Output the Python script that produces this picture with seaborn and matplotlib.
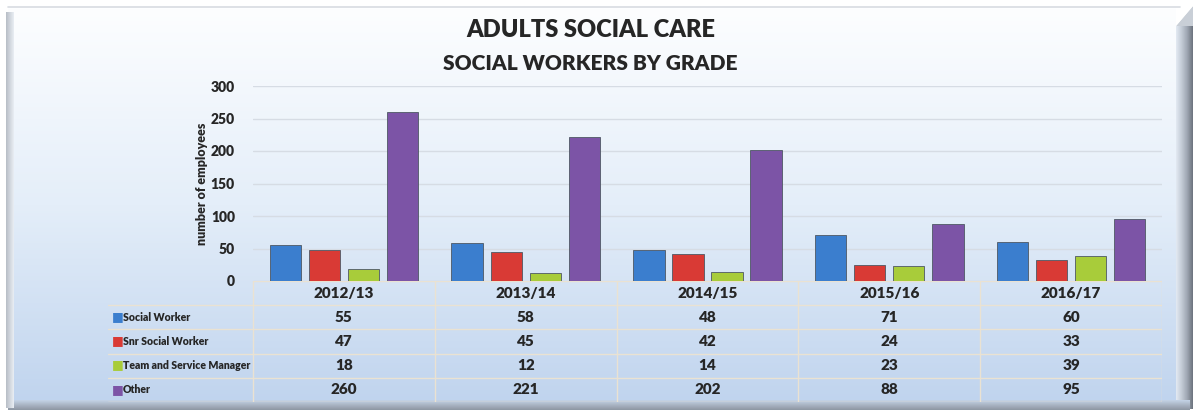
import numpy as np
import pandas as pd
import seaborn as sns
import matplotlib.pyplot as plt
from matplotlib.colors import LinearSegmentedColormap

# data
years = ["2012/13", "2013/14", "2014/15", "2015/16", "2016/17"]
grades = ["Social Worker", "Snr Social Worker", "Team and Service Manager", "Other"]
social_worker = [55, 58, 48, 71, 60]
snr_social_worker = [47, 45, 42, 24, 33]
team_service_manager = [18, 12, 14, 23, 39]
other = [260, 221, 202, 88, 95]
colors = ["#3B7ECE", "#D93A35", "#A8CC3A", "#7C54A6"]

series = [social_worker, snr_social_worker, team_service_manager, other]
df = pd.DataFrame({
    "year": np.tile(years, len(grades)),
    "grade": np.repeat(grades, len(years)),
    "count": np.concatenate(series),
})

sns.set_theme(style="white")
plt.rcParams["font.family"] = ["Lato", "DejaVu Sans"]
plt.rcParams["font.weight"] = "heavy"
FW = "heavy"

W, H = 1198, 416
fig = plt.figure(figsize=(W / 100, H / 100), dpi=100, facecolor="white")

# background panel (gradient + bevel edges), pixel coordinates
bg = fig.add_axes([0, 0, 1, 1], zorder=-5)
bg.set_xlim(0, W)
bg.set_ylim(H, 0)
bg.axis("off")
panel_cmap = LinearSegmentedColormap.from_list("panel", ["#FDFEFF", "#E4EEF9", "#C0D4EE"])
grad = np.linspace(0, 1, 256).reshape(-1, 1)
bg.imshow(grad, cmap=panel_cmap, extent=[8, 1192, 402, 8], aspect="auto", zorder=0)
# right bevel
rb = LinearSegmentedColormap.from_list("rb", ["#E3EAF2", "#C3CBD6", "#9EA6B2", "#6C737E"])
bg.imshow(np.linspace(0, 1, 64).reshape(1, -1), cmap=rb, extent=[1176, 1193, 409, 26],
          aspect="auto", zorder=1)
bg.fill([1176, 1193, 1193], [26, 26, 6], color="#C9CFD7", zorder=1, lw=0)
bg.fill([1176, 1176, 1193], [26, 6, 6], color="#FFFFFF", zorder=1, lw=0)
# bottom bevel
bb = LinearSegmentedColormap.from_list("bb", ["#C4D3E6", "#A9B4C3", "#8E97A3"])
bg.imshow(np.linspace(0, 1, 32).reshape(-1, 1), cmap=bb, extent=[8, 1190, 410, 400],
          aspect="auto", zorder=1)
# left bevel
lb = LinearSegmentedColormap.from_list("lb", ["#B8BEC6", "#E9EEF4"])
bg.imshow(np.linspace(0, 1, 32).reshape(1, -1), cmap=lb, extent=[6, 14, 408, 12],
          aspect="auto", zorder=1)
bg.plot([8, 1180], [7, 7], color="#D8DCE2", lw=1.2, zorder=2)

# main chart
ax = fig.add_axes([253 / W, (H - 281) / H, (1162 - 253) / W, (281 - 86) / H])
ax.set_facecolor("none")
sns.barplot(data=df, x="year", y="count", hue="grade", hue_order=grades,
            palette=colors, width=0.86, gap=0.2, legend=False, saturation=1,
            edgecolor="#4E5864", linewidth=0.6, ax=ax, zorder=3)
ax.set_ylim(0, 300)
ax.set_yticks(range(0, 301, 50))
ax.yaxis.grid(True, color="#D6DCE4", lw=1.0)
ax.set_axisbelow(True)
for s in ax.spines.values():
    s.set_visible(False)
ax.tick_params(axis="y", length=0, pad=13, labelsize=10)
ax.set_xticks([])
ax.set_xlabel("")
ax.set_ylabel("number of employees", fontsize=9, fontweight=FW)
ax.yaxis.set_label_coords(-45 / 909, 0.5)
for t in ax.get_yticklabels():
    t.set_fontweight(FW)

# data table under the chart, columns aligned with categories
col_w = (1162 - 253) / len(years)
left_px = 108
tx0 = -0.5 - (253 - left_px) / col_w
tab = fig.add_axes([left_px / W, (H - 402) / H, (1162 - left_px) / W, (402 - 281) / H])
tab.set_facecolor("none")
tab.set_xlim(tx0, len(years) - 0.5)
tab.set_ylim(len(grades) + 1, 0)
tab.axis("off")
line_c = "#EAE2D2"
for r in range(len(grades) + 2):
    x_start = -0.5 if r == 0 else tx0
    tab.plot([x_start, len(years) - 0.5], [r, r], color=line_c, lw=1.0)
for c in range(len(years) + 1):
    tab.plot([c - 0.5, c - 0.5], [0, len(grades) + 1], color=line_c, lw=1.0)
for i, y in enumerate(years):
    tab.text(i, 0.5, y, ha="center", va="center", fontsize=11, fontweight=FW)
for r, (g, vals, col) in enumerate(zip(grades, series, colors), start=1):
    tab.text(tx0 + 0.02, r + 0.47, "■", color=col, ha="left", va="center", fontsize=9,
             family=["DejaVu Sans"])
    tab.text(tx0 + 0.08, r + 0.5, g, ha="left", va="center", fontsize=7.6, fontweight=FW)
    for i, v in enumerate(vals):
        tab.text(i, r + 0.5, str(v), ha="center", va="center", fontsize=11, fontweight=FW)

fig.text(591 / W, 1 - 30 / H, "ADULTS SOCIAL CARE", ha="center", va="center",
         fontsize=17, fontweight=FW)
fig.text(590 / W, 1 - 63 / H, "SOCIAL WORKERS BY GRADE", ha="center", va="center",
         fontsize=15, fontweight=FW)

fig.savefig("out.png", dpi=100, facecolor="white")
